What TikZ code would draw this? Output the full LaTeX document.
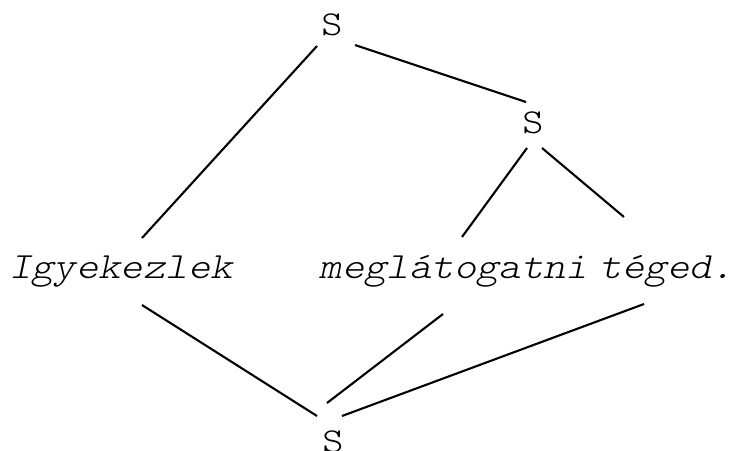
\documentclass[tikz,border=0pt]{standalone}
\usepackage{fontspec}
% thin serif monospace, widened to a 0.6em pitch
\newfontfamily\labelfont{Latin Modern Mono Light}[FakeStretch=1.15]
\newfontfamily\wordfont{Latin Modern Mono Light}[FakeStretch=1.15, FakeSlant=0.21]
\begin{document}
\begin{tikzpicture}[x=1pt,y=-1pt,
  lbl/.style={font=\fontsize{35}{42}\labelfont, inner sep=0pt, anchor=base},
  word/.style={lbl, font=\fontsize{37}{44}\wordfont},
  edge/.style={line width=2.1pt}]
\useasboundingbox (0,0) rectangle (744,450);
% category labels
\node[lbl] (s1) at (332,35) {S};
\node[lbl] (s2) at (533,133) {S};
\node[lbl] (s3) at (333,452) {S};
% words
\node[word] (w1) at (121,278) {Igyekezlek};
\node[word] (w2) at (454,278) {meglátogatni};
\node[word] (w3) at (667,278) {téged.};
% upper tree
\draw[edge] ([shift={(-15,11)}]s1.base) -- ([shift={(21,-40)}]w1.base);
\draw[edge] ([shift={(23,10)}]s1.base) -- ([shift={(-7,-31)}]s2.base);
\draw[edge] ([shift={(-6,15)}]s2.base) -- ([shift={(8,-41)}]w2.base);
\draw[edge] ([shift={(9,15)}]s2.base) -- ([shift={(-43,-61)}]w3.base);
% lower tree
\draw[edge] ([shift={(21,27)}]w1.base) -- ([shift={(-16,-36)}]s3.base);
\draw[edge] ([shift={(-11,36)}]w2.base) -- ([shift={(-6,-49)}]s3.base);
\draw[edge] ([shift={(-23,26)}]w3.base) -- ([shift={(9,-36)}]s3.base);
\end{tikzpicture}
\end{document}
